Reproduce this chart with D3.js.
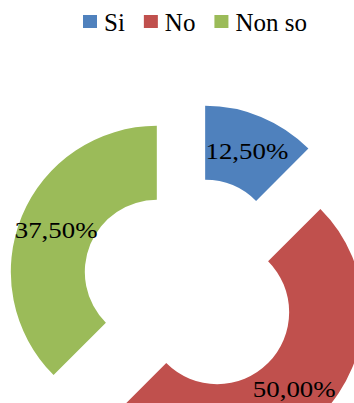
<!DOCTYPE html>
<html>
<head>
<meta charset="utf-8">
<script src="https://cdn.jsdelivr.net/npm/d3@7"></script>
<style>
  body { margin: 0; background: #fff; }
</style>
</head>
<body>
<svg id="chart"></svg>
<script>
// data
var categories = ["Si", "No", "Non so"];
var values = [12.5, 50, 37.5];
var labels = ["12,50%", "50,00%", "37,50%"];
var colors = ["#4F81BD", "#C0504D", "#9BBB59"];

const width = 354;
const height = 403;
const cx = 191, cy = 286;
const outerR = 146, innerR = 72;
const explode = 37;
const serif = "'Liberation Serif', 'Times New Roman', Times, 'DejaVu Serif', serif";

var svg = d3.select('#chart')
  .attr('width', width)
  .attr('height', height)
  .attr('font-family', serif);

var pie = d3.pie().sort(null).value(d => d);
var arcs = pie(values);

var arc = d3.arc()
  .innerRadius(innerR)
  .outerRadius(outerR);

var labelArc = d3.arc()
  .innerRadius((innerR + outerR) / 2)
  .outerRadius((innerR + outerR) / 2);

var slice = svg.selectAll('g.slice')
  .data(arcs)
  .enter().append('g')
    .attr('class', 'slice')
    .attr('transform', d => {
      var mid = (d.startAngle + d.endAngle) / 2;
      var dx = cx + explode * Math.sin(mid);
      var dy = cy - explode * Math.cos(mid);
      return `translate(${dx},${dy})`;
    });

slice.append('path')
  .attr('d', arc)
  .attr('fill', (d, i) => colors[i]);

slice.append('text')
  .attr('transform', d => {
    var c = labelArc.centroid(d);
    return `translate(${c[0]},${c[1]}) scale(1.12,1)`;
  })
  .attr('text-anchor', 'middle')
  .attr('dy', '0.33em')
  .attr('font-family', serif)
  .attr('font-size', 24)
  .attr('fill', '#000')
  .text((d, i) => labels[i]);

// legend across the top
var legend = svg.append('g').attr('transform', 'translate(83,0)');
var lx = 0;
categories.forEach((c, i) => {
  var item = legend.append('g').attr('transform', `translate(${lx},0)`);
  item.append('rect')
    .attr('x', 0).attr('y', 15)
    .attr('width', 14).attr('height', 13)
    .attr('fill', colors[i]);
  var t = item.append('text')
    .attr('x', 21).attr('y', 31)
    .attr('font-family', serif)
    .attr('font-size', 25)
    .attr('fill', '#000')
    .text(c);
  lx += 21 + t.node().getComputedTextLength() + 19;
});
</script>
</body>
</html>
